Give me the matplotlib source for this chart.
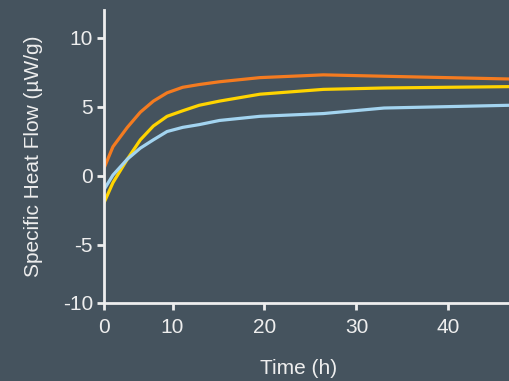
import matplotlib
matplotlib.use("Agg")
import matplotlib.pyplot as plt
import numpy as np

# Heat flow curves (time in hours, specific heat flow in µW/g)
time_h = [0, 1.3, 3.4, 5.3, 7.2, 9.2, 11.1, 12.9, 15.1, 19.5, 26.4, 33.0, 46.7]
flow_orange = [0.55, 2.1, 3.5, 4.6, 5.4, 6.0, 6.4, 6.6, 6.8, 7.1, 7.3, 7.2, 7.0]
flow_yellow = [-1.95, -0.5, 1.2, 2.6, 3.6, 4.3, 4.7, 5.1, 5.4, 5.9, 6.25, 6.35, 6.45]
flow_blue = [-1.0, 0.05, 1.2, 2.0, 2.6, 3.2, 3.5, 3.7, 4.0, 4.3, 4.5, 4.9, 5.1]

x_ticks = [0, 10, 20, 30, 40]
y_ticks = [-10, -5, 0, 5, 10]

BG = "#45535e"
FG = "#eeeeee"
plt.rcParams['font.family'] = ['Liberation Sans', 'DejaVu Sans']

# piecewise axis: first decade on x and lowest band on y are compressed
X_K = 0.745
def fx(t):
    t = np.asarray(t, dtype=float)
    return np.where(t < 10, 10 - (10 - t) * X_K, t)
def ix(u):
    u = np.asarray(u, dtype=float)
    return np.where(u < 10, 10 - (10 - u) / X_K, u)

Y_K = 0.84
def fy(v):
    v = np.asarray(v, dtype=float)
    return np.where(v < -5, -5 + (v + 5) * Y_K, v)
def iy(u):
    u = np.asarray(u, dtype=float)
    return np.where(u < -5, -5 + (u + 5) / Y_K, u)

fig = plt.figure(figsize=(5.10, 3.81), dpi=100, facecolor=BG)
ax = fig.add_axes([0.204, 0.205, 0.796, 0.769], facecolor=BG)
ax.set_xscale('function', functions=(fx, ix))
ax.set_yscale('function', functions=(fy, iy))

ax.plot(time_h, flow_orange, color="#f47b20", lw=2.3)
ax.plot(time_h, flow_yellow, color="#ffd400", lw=2.3)
ax.plot(time_h, flow_blue, color="#a3d4f0", lw=2.3)

ax.set_xlim(0, 46.7)
ax.set_ylim(-10, 12.0)
ax.set_xticks(x_ticks)
ax.set_yticks(y_ticks)
ax.set_xticklabels([str(v) for v in x_ticks])
ax.set_yticklabels([str(v) for v in y_ticks])
ax.minorticks_off()

for side in ("top", "right"):
    ax.spines[side].set_visible(False)
for side in ("left", "bottom"):
    ax.spines[side].set_color(FG)
    ax.spines[side].set_linewidth(2)

ax.tick_params(colors=FG, labelcolor=FG, width=2, length=5, labelsize=15)
ax.tick_params(axis='x', pad=6)
ax.tick_params(axis='y', pad=3)

ax.set_xlabel("Time (h)", color=FG, fontsize=15, labelpad=14)
ax.xaxis.set_label_coords(0.48, -0.19)
ax.set_ylabel("Specific Heat Flow (µW/g)", color=FG, fontsize=15, labelpad=14)

fig.savefig("out.png", dpi=100, facecolor=BG)
